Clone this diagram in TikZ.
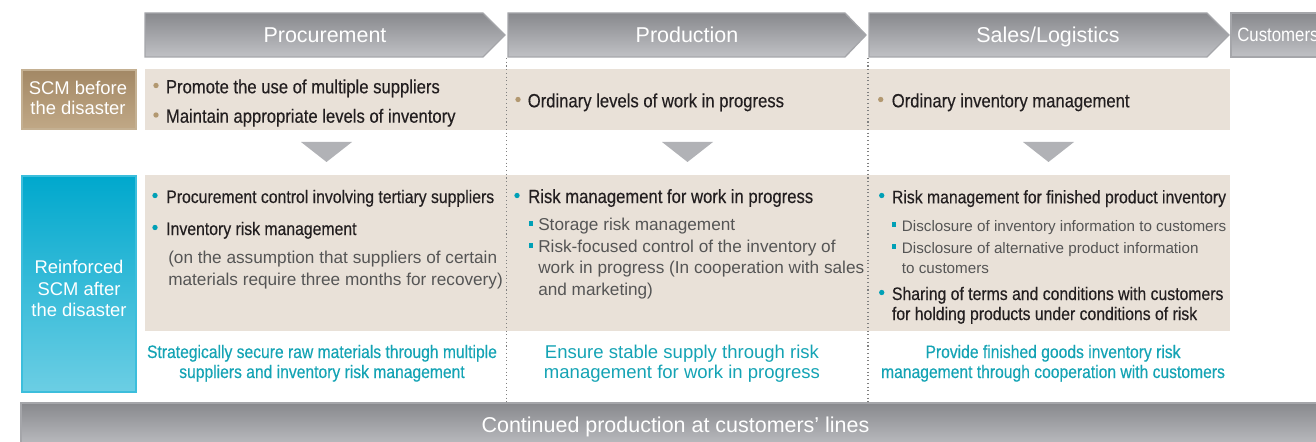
\documentclass[tikz,border=0pt]{standalone}
\usepackage{fontspec}
\setmainfont{Liberation Sans}
\newfontfamily\condsf[FakeStretch=0.87,FakeBold=0.35]{Liberation Sans}
\newfontfamily\condhd[FakeStretch=0.87]{Liberation Sans}
\usetikzlibrary{calc}

\definecolor{rowbeige}{RGB}{233,225,216}
\definecolor{hdrtop}{RGB}{136,137,141}
\definecolor{hdrbot}{RGB}{192,193,197}
\definecolor{hdrline}{RGB}{165,166,170}
\definecolor{browntop}{RGB}{163,136,101}
\definecolor{brownbot}{RGB}{192,168,134}
\definecolor{brownline}{RGB}{196,176,146}
\definecolor{cyantop}{RGB}{0,168,205}
\definecolor{cyanbot}{RGB}{108,206,228}
\definecolor{cyanline}{RGB}{60,190,220}
\definecolor{trigray}{RGB}{177,178,182}
\definecolor{txtdark}{RGB}{35,31,32}
\definecolor{txtgray}{RGB}{85,85,85}
\definecolor{goalteal}{RGB}{20,163,180}
\definecolor{dotteal}{RGB}{0,160,182}
\definecolor{dotbrown}{RGB}{178,152,112}

\tikzset{
  hdr/.style={anchor=base, inner sep=0pt, text=white, font=\fontsize{16.1}{19}\selectfont},
  itm/.style={anchor=base west, inner sep=0pt, text=txtdark, font=\condsf\fontsize{13.6}{16}\selectfont},
  itmb/.style={itm, font=\condsf\fontsize{14.35}{16}\selectfont},
  sub/.style={anchor=base west, inner sep=0pt, text=txtgray, font=\fontsize{12.9}{15}\selectfont},
  subs/.style={anchor=base west, inner sep=0pt, text=txtgray, font=\fontsize{11.4}{14}\selectfont},
  goal/.style={anchor=base, inner sep=0pt, text=goalteal, font=\condsf\fontsize{13.5}{16}\selectfont},
  goalw/.style={anchor=base, inner sep=0pt, text=goalteal, font=\fontsize{13.9}{16}\selectfont},
  lbl/.style={anchor=base, inner sep=0pt, text=white, font=\fontsize{13.8}{16}\selectfont},
  dotb/.style={circle, fill=dotbrown, inner sep=0pt, minimum size=4pt},
  dott/.style={circle, fill=dotteal, inner sep=0pt, minimum size=4pt},
  sqt/.style={rectangle, fill=dotteal, inner sep=0pt, minimum size=3.4pt},
  hdrbox/.style={top color=hdrtop, bottom color=hdrbot, draw=hdrline, line width=1pt},
}

\begin{document}
\begin{tikzpicture}[x=0.75pt,y=0.75pt,yscale=-1,xscale=1]
\useasboundingbox (0,0) rectangle (1316,442);

%Shape: header arrows
\draw [hdrbox] (145,13) -- (483,13) -- (505,35) -- (483,57) -- (145,57) -- cycle ;
\draw [hdrbox] (508,13) -- (845,13) -- (866,35) -- (845,57) -- (508,57) -- cycle ;
\draw [hdrbox] (869,13) -- (1207,13) -- (1229,35) -- (1207,57) -- (869,57) -- cycle ;
\draw [hdrbox] (1231,13) -- (1330,13) -- (1330,57) -- (1231,57) -- cycle ;

%Shape: Rectangle rows
\fill [rowbeige] (145,69) rectangle (1230,130) ;
\fill [rowbeige] (145,175) rectangle (1230,331) ;

%Shape: Rectangle labels
\draw [top color=browntop, bottom color=brownbot, draw=brownline, line width=1.5pt] (22,70) rectangle (136,129) ;
\draw [top color=cyantop, bottom color=cyanbot, draw=cyanline, line width=2pt] (22,176) rectangle (136,392) ;

%Shape: Triangles
\fill [trigray] (301,142) -- (352,142) -- (326.5,162) -- cycle ;
\fill [trigray] (662,142) -- (713,142) -- (687.5,162) -- cycle ;
\fill [trigray] (1023,142) -- (1074,142) -- (1048.5,162) -- cycle ;

%Shape: bottom bar
\draw [hdrbox] (21,403) -- (1330,403) -- (1330,450) -- (21,450) -- cycle ;

%Straight Lines: dotted separators
\draw [gray, dotted, line width=0.8pt] (506.5,58) -- (506.5,402) ;
\draw [gray, dotted, line width=0.8pt] (868,58) -- (868,402) ;

% Text Node: headers
\draw (325,42.7) node (proc) [hdr] {Procurement};
\draw (687,42.7) node (prod) [hdr] {Production};
\draw (1048,42.7) node (sales) [hdr] {Sales/Logistics};
\draw (1237,42) node (cust) [hdr, anchor=base west, font=\condhd\fontsize{14.5}{17}\selectfont] {Customers};

% Text Node: labels
\draw (78,95) node (bef1) [lbl] {SCM before};
\draw (78,115) node (bef2) [lbl] {the disaster};
\draw (79,273) node (aft1) [lbl] {Reinforced};
\draw (79,295) node (aft2) [lbl] {SCM after};
\draw (79,316) node (aft3) [lbl] {the disaster};

% Text Node: before, procurement
\draw (156,85.5) node (bp1) [dotb] {};
\draw (165.7,93.3) node (pb1) [itmb] {Promote the use of multiple suppliers};
\draw (156,115) node (bp2) [dotb] {};
\draw (165.7,122.7) node (pb2) [itmb] {Maintain appropriate levels of inventory};
% Text Node: before, production and sales
\draw (518,99.5) node (bp3) [dotb] {};
\draw (527.5,107.3) node (db1) [itmb] {Ordinary levels of work in progress};
\draw (880.7,99.5) node (bp4) [dotb] {};
\draw (891.5,107.3) node (sb1) [itmb] {Ordinary inventory management};

% Text Node: after, procurement
\draw (155,195.5) node (ap1) [dott] {};
\draw (166,203) node (pa1) [itm] {Procurement control involving tertiary suppliers};
\draw (155,227.5) node (ap2) [dott] {};
\draw (166,235) node (pa2) [itm] {Inventory risk management};
\draw (168,263) node (pa3) [sub] {(on the assumption that suppliers of certain};
\draw (168,285) node (pa4) [sub] {materials require three months for recovery)};

% Text Node: after, production
\draw (517,195.5) node (ap3) [dott] {};
\draw (528,203) node (da1) [itmb] {Risk management for work in progress};
\draw (531,223.5) node (aq1) [sqt] {};
\draw (538,230.7) node (da2) [sub] {Storage risk management};
\draw (531,245.5) node (aq2) [sqt] {};
\draw (538,252.7) node (da3) [sub] {Risk-focused control of the inventory of};
\draw (538,273.3) node (da4) [sub] {work in progress (In cooperation with sales};
\draw (538,295) node (da5) [sub] {and marketing)};

% Text Node: after, sales
\draw (881.7,195.5) node (ap4) [dott] {};
\draw (891.7,203.3) node (sa1) [itm] {Risk management for finished product inventory};
\draw (894,224.5) node (aq3) [sqt] {};
\draw (901.7,231) node (sa2) [subs] {Disclosure of inventory information to customers};
\draw (894,246.5) node (aq4) [sqt] {};
\draw (901.7,253.3) node (sa3) [subs] {Disclosure of alternative product information};
\draw (901.7,273.3) node (sa4) [subs] {to customers};
\draw (881.7,292.5) node (ap5) [dott] {};
\draw (891.7,300) node (sa5) [itm] {Sharing of terms and conditions with customers};
\draw (891.7,320) node (sa6) [itm] {for holding products under conditions of risk};

% Text Node: goals
\draw (322,358) node (gp1) [goal] {Strategically secure raw materials through multiple};
\draw (322,378) node (gp2) [goal] {suppliers and inventory risk management};
\draw (682,358) node (gd1) [goalw] {Ensure stable supply through risk};
\draw (682,378) node (gd2) [goalw] {management for work in progress};
\draw (1053,358) node (gs1) [goal] {Provide finished goods inventory risk};
\draw (1053,378) node (gs2) [goal] {management through cooperation with customers};

% Text Node: bottom
\draw (675.5,432.5) node (cont) [hdr, font=\fontsize{16.1}{19}\selectfont] {Continued production at customers’ lines};

\end{tikzpicture}
\end{document}
